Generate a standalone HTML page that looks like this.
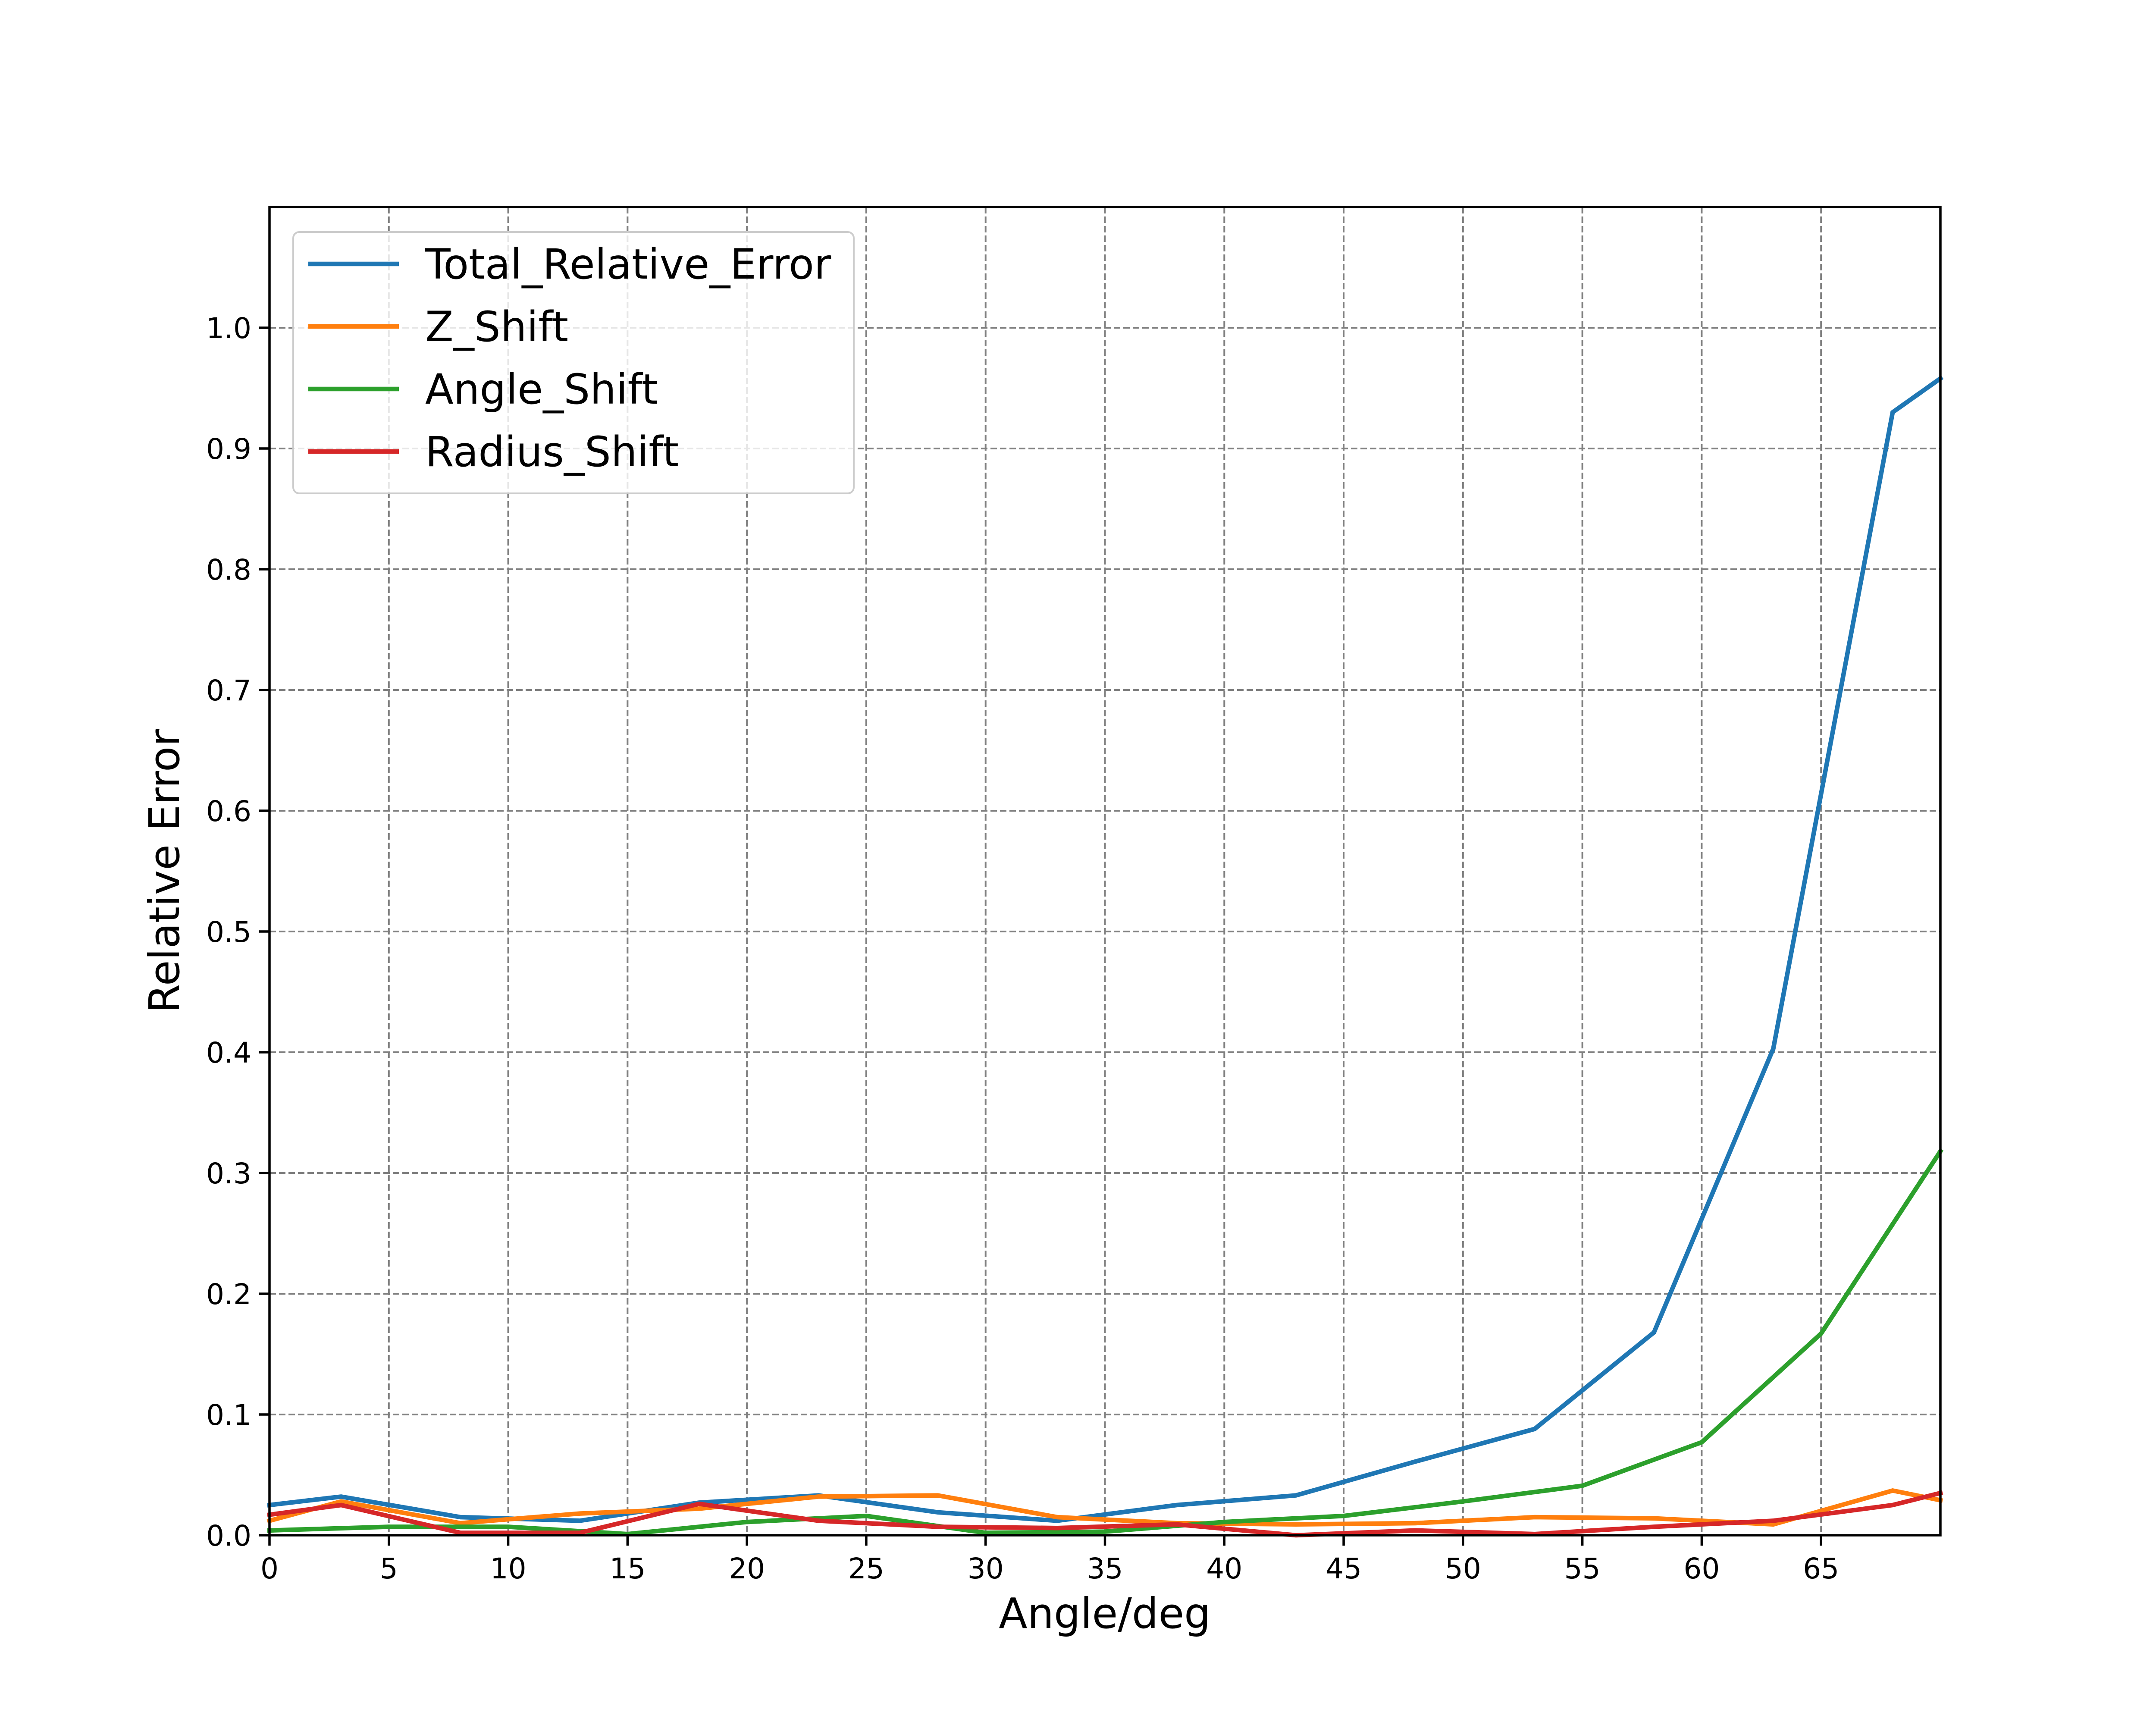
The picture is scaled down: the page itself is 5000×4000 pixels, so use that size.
<!DOCTYPE html>
<html><head><meta charset="utf-8"><style>html,body{margin:0;padding:0;background:#fff}svg{display:block}text{font-family:"DejaVu Sans","Liberation Sans",sans-serif}</style></head>
<body>
<svg id="chart" xmlns="http://www.w3.org/2000/svg" width="5000" height="4000" viewBox="0 0 5000 4000">
<rect width="5000" height="4000" fill="#fff"/>
<g id="grid"></g>
<g id="series"></g>
<rect x="625" y="480" width="3875" height="3080" fill="none" stroke="#000" stroke-width="5.5"/>
<g id="ticks"></g>
<text x="2562" y="3775" font-size="97" text-anchor="middle">Angle/deg</text>
<text x="0" y="0" font-size="97" text-anchor="middle" transform="translate(415,2020) rotate(-90)">Relative Error</text>
<g id="legend"></g>
</svg>
<script>
const xTicks = [0,5,10,15,20,25,30,35,40,45,50,55,60,65];
const yTicks = [0,0.1,0.2,0.3,0.4,0.5,0.6,0.7,0.8,0.9,1.0];
const xShifted = [0,3,8,13,18,23,28,33,38,43,48,53,58,63,68,70];
const xFive = [0,5,10,15,20,25,30,35,40,45,50,55,60,65,70];
const totalErr = [0.025,0.032,0.015,0.012,0.027,0.033,0.019,0.012,0.025,0.033,0.061,0.088,0.168,0.403,0.930,0.958];
const zShift = [0.012,0.028,0.010,0.018,0.022,0.032,0.033,0.015,0.010,0.009,0.010,0.015,0.014,0.009,0.037,0.029];
const angleShift = [0.004,0.007,0.007,0.001,0.011,0.016,0.002,0.003,0.011,0.016,0.028,0.041,0.077,0.167,0.318];
const radiusShift = [0.017,0.025,0.002,0.002,0.026,0.012,0.007,0.006,0.009,0.000,0.004,0.001,0.007,0.012,0.025,0.035];
const seriesNames = ["Total_Relative_Error","Z_Shift","Angle_Shift","Radius_Shift"];

const NS="http://www.w3.org/2000/svg";
const L=625,R=4500,T=480,B=3560,XMAX=70,YMAX=1.1;
const sx=v=>L+(R-L)*v/XMAX, sy=v=>B-(B-T)*v/YMAX;
function mk(tag,attrs,parent){const e=document.createElementNS(NS,tag);for(const k in attrs)e.setAttribute(k,attrs[k]);parent.appendChild(e);return e;}
const grid=document.getElementById('grid'),ticks=document.getElementById('ticks'),ser=document.getElementById('series'),leg=document.getElementById('legend');
xTicks.forEach(v=>{
  const g=mk('line',{x1:sx(v),x2:sx(v),y1:T,y2:B,stroke:'#808080','stroke-width':4,'stroke-dasharray':'15,7'},grid);
  
  
  const t=mk('line',{x1:sx(v),x2:sx(v),y1:B,y2:B+24,stroke:'#000','stroke-width':5.5},ticks);
  
  
  const l=mk('text',{x:sx(v),y:B+100,'font-size':66,'text-anchor':'middle'},ticks);
  l.textContent=String(v);
  
  
});
yTicks.forEach(v=>{
  const g=mk('line',{x1:L,x2:R,y1:sy(v),y2:sy(v),stroke:'#808080','stroke-width':4,'stroke-dasharray':'15,7'},grid);
  
  
  const t=mk('line',{x1:L-24,x2:L,y1:sy(v),y2:sy(v),stroke:'#000','stroke-width':5.5},ticks);
  
  
  const l=mk('text',{x:L-42,y:sy(v)+24,'font-size':66,'text-anchor':'end'},ticks);
  l.textContent=v.toFixed(1);
  
  
});
const colors=['#1f77b4','#ff7f0e','#2ca02c','#d62728'];
const data=[[xShifted,totalErr],[xShifted,zShift],[xFive,angleShift],[xShifted,radiusShift]];
data.forEach((d,i)=>{
  const pts=d[0].map((x,j)=>sx(x)+','+sy(d[1][j])).join(' ');
  const p=mk('polyline',{points:pts,fill:'none',stroke:colors[i],'stroke-width':10.5,'stroke-linejoin':'miter','stroke-linecap':'square'},ser);
  
  
});
const box=mk('rect',{x:680,y:538,width:1300,height:606,rx:14,fill:'#fff','fill-opacity':0.8,stroke:'#ccc','stroke-width':4},leg);


seriesNames.forEach((n,i)=>{
  const y=612+i*145;
  const ln=mk('line',{x1:715,x2:925,y1:y,y2:y,stroke:colors[i],'stroke-width':10.5},leg);
  
  
  const t=mk('text',{x:986,y:y+34,'font-size':96},leg);
  t.textContent=n;
  
  
});
</script>
</body></html>
